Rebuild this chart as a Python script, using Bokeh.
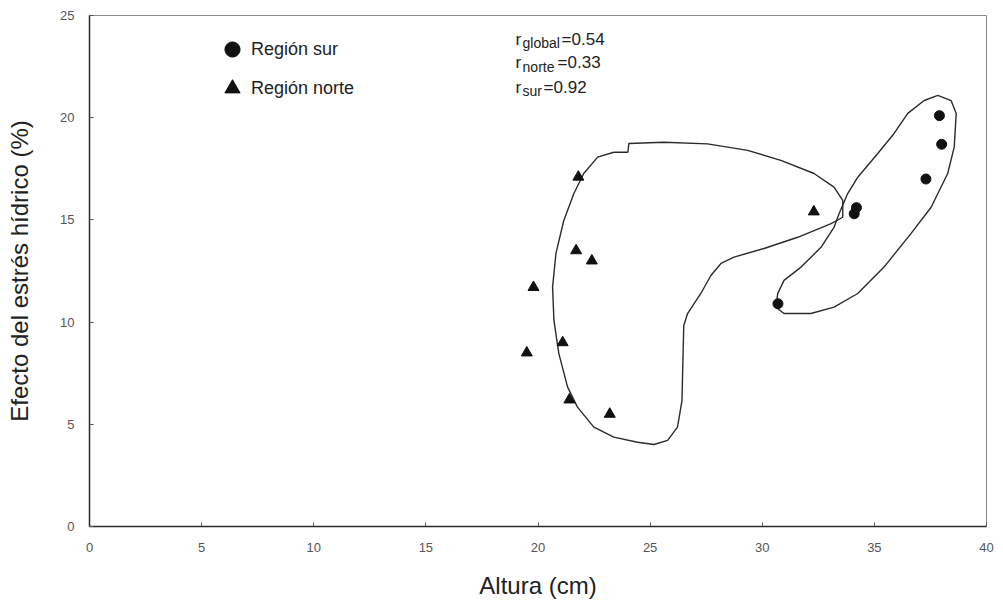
from bokeh.plotting import figure
from bokeh.models import Legend, LegendItem, Range1d, FixedTicker, ColumnDataSource
from bokeh.core.properties import value
from bokeh.embed import file_html
from bokeh.resources import INLINE

# ---------------- data ----------------
x_ticks = [0, 5, 10, 15, 20, 25, 30, 35, 40]
y_ticks = [0, 5, 10, 15, 20, 25]

# Región norte (triangles)
norte_x = [21.8, 21.7, 22.4, 19.8, 19.5, 21.1, 21.4, 23.2, 32.3]
norte_y = [17.1, 13.5, 13.0, 11.7, 8.5, 9.0, 6.2, 5.5, 15.4]

# Región sur (circles)
sur_x = [37.9, 38.0, 37.3, 34.2, 34.1, 30.7]
sur_y = [20.1, 18.7, 17.0, 15.6, 15.3, 10.9]

# hand-drawn grouping contours
norte_cx = [23.38, 24.01, 24.05, 25.61, 27.56, 29.35, 30.83, 32.31, 33.20, 33.59,
            33.59, 33.07, 31.58, 30.08, 28.74, 28.16, 27.71, 27.26, 26.67, 26.50,
            26.42, 26.22, 25.78, 25.17, 24.44, 23.38, 22.49, 21.76, 21.32, 20.93,
            20.71, 20.65, 20.80, 21.15, 21.60, 22.04, 22.66, 23.38]
norte_cy = [18.31, 18.31, 18.74, 18.80, 18.72, 18.40, 17.91, 17.27, 16.60, 15.95,
            15.13, 14.82, 14.15, 13.60, 13.18, 12.87, 12.28, 11.40, 10.42, 9.83,
            6.16, 4.86, 4.21, 4.01, 4.12, 4.37, 4.86, 5.84, 6.82, 8.46,
            10.08, 11.71, 13.36, 14.97, 16.29, 17.27, 18.07, 18.31]

sur_cx = [37.83, 38.42, 38.65, 38.56, 38.27, 37.53, 36.63, 35.43, 34.26, 33.20,
          32.17, 30.97, 30.61, 30.69, 30.97, 31.73, 32.62, 33.20, 33.43, 33.81,
          34.26, 35.15, 35.88, 36.49, 37.22, 37.83]
sur_cy = [21.09, 20.84, 20.21, 18.56, 17.27, 15.62, 14.33, 12.69, 11.40, 10.73,
          10.42, 10.42, 10.73, 11.40, 12.04, 12.69, 13.66, 14.64, 15.31, 16.29,
          17.09, 18.25, 19.23, 20.21, 20.84, 21.09]

# correlation annotation
ann_names = ["global", "norte", "sur"]
ann_vals = ["0.54", "0.33", "0.92"]

x_label = "Altura (cm)"
y_label = "Efecto del estrés hídrico (%)"
legend_labels = ["Región sur", "Región norte"]

# ---------------- figure ----------------
FONT = "Liberation Sans"

p = figure(width=1003, height=603, title=None,
           x_range=Range1d(0, 40), y_range=Range1d(0, 25),
           output_backend="svg", toolbar_location=None,
           min_border_left=89, min_border_right=17,
           min_border_top=15, min_border_bottom=77)

p.grid.visible = False
p.background_fill_color = "white"
p.border_fill_color = "white"
p.outline_line_color = "#8a8a8a"
p.outline_line_width = 1

for ax in (p.xaxis[0], p.yaxis[0]):
    ax.axis_line_color = "#2a2a2a"
    ax.axis_line_width = 1.5
    ax.major_tick_in = 4
    ax.major_tick_out = 0
    ax.major_tick_line_color = "#555555"
    ax.minor_tick_line_color = None
    ax.major_label_text_font = FONT
    ax.major_label_text_font_size = "13px"
    ax.major_label_text_color = "#555555"
    ax.axis_label_text_font = FONT
    ax.axis_label_text_font_size = "24px"
    ax.axis_label_text_font_style = "normal"
    ax.axis_label_text_color = "#222222"

p.xaxis.ticker = FixedTicker(ticks=x_ticks)
p.yaxis.ticker = FixedTicker(ticks=y_ticks)
p.xaxis.axis_label = x_label
p.yaxis.axis_label = y_label
p.xaxis.major_label_standoff = 16
p.xaxis.axis_label_standoff = 17
p.yaxis.major_label_standoff = 15
p.yaxis.axis_label_standoff = 24

# contours
p.line(norte_cx, norte_cy, line_color="#2b2b2b", line_width=1.4)
p.line(sur_cx, sur_cy, line_color="#2b2b2b", line_width=1.4)

# points
r_sur = p.scatter(sur_x, sur_y, marker="circle", size=10,
                  fill_color="#111111", line_color="#111111")
r_norte = p.scatter(norte_x, norte_y, marker="triangle", size=11,
                    fill_color="#111111", line_color="#111111")

legend = Legend(items=[LegendItem(label=legend_labels[0], renderers=[r_sur]),
                       LegendItem(label=legend_labels[1], renderers=[r_norte])],
                location=(124, 419), orientation="vertical",
                glyph_width=38, glyph_height=38, label_height=20,
                spacing=1, padding=0, margin=0, label_standoff=-1,
                label_text_font=FONT, label_text_font_size="18px",
                label_text_color="#222222",
                background_fill_alpha=0, border_line_alpha=0)
p.add_layout(legend)

# annotation r_global / r_norte / r_sur
ann_y = [23.83, 22.70, 21.48]
src = ColumnDataSource(dict(x=[19.0] * 3, y=ann_y,
                            r=["r"] * 3, sub=ann_names,
                            val=["=" + v for v in ann_vals],
                            dx=[46, 42, 28]))
p.text(x="x", y="y", text="r", source=src, text_font=value(FONT),
       text_font_size="17px", text_color="#222222", text_baseline="alphabetic")
p.text(x="x", y="y", text="sub", source=src, x_offset=7, y_offset=4,
       text_font=value(FONT), text_font_size="14px", text_color="#222222",
       text_baseline="alphabetic")
p.text(x="x", y="y", text="val", source=src, x_offset="dx",
       text_font=value(FONT), text_font_size="17px", text_color="#222222",
       text_baseline="alphabetic")

open("out.html", "w").write(file_html(p, INLINE))
